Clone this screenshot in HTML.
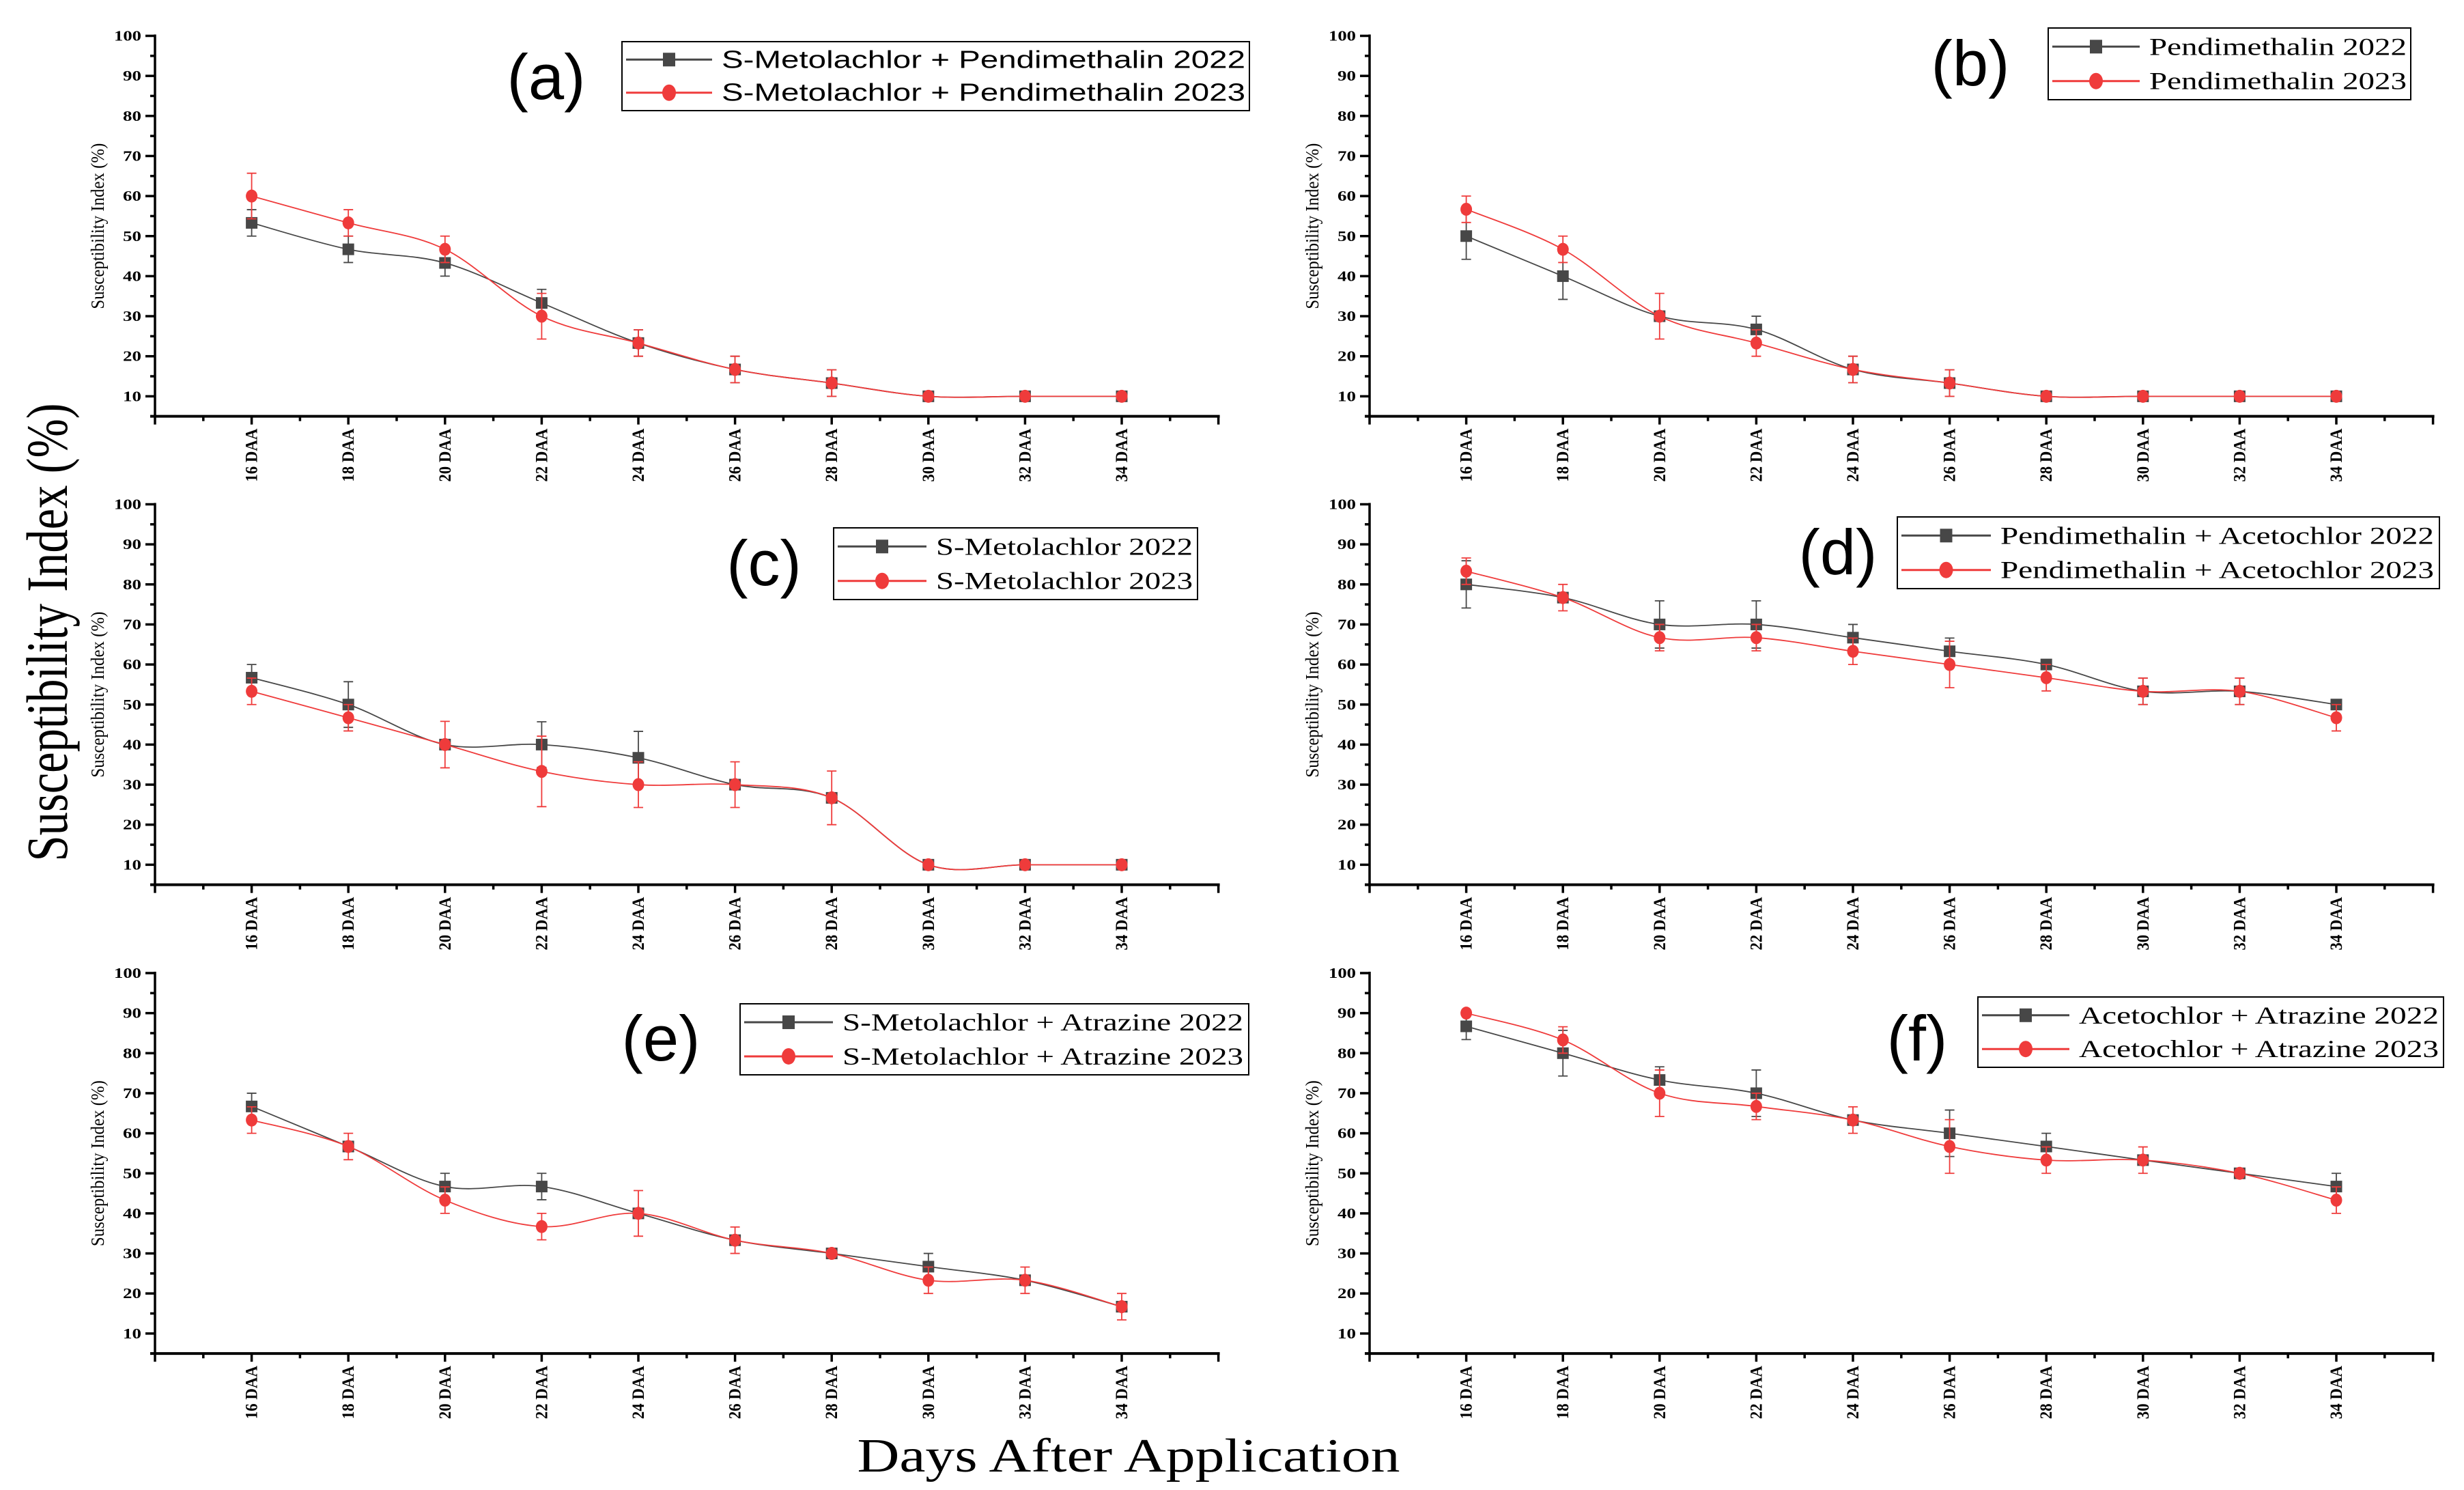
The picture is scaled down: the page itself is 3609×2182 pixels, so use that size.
<!DOCTYPE html>
<html><head><meta charset="utf-8"><title>Susceptibility Index panels</title>
<style>html,body{margin:0;padding:0;background:#fff}svg{display:block}</style></head>
<body>
<svg id="chart" xmlns="http://www.w3.org/2000/svg" width="3609" height="2182" viewBox="0 0 3609 2182">
<rect width="3609" height="2182" fill="#fff"/>
<text transform="translate(98,926) rotate(-90)" text-anchor="middle" font-family="Liberation Serif, serif" font-size="86" textLength="671" lengthAdjust="spacingAndGlyphs">Susceptibility Index (%)</text>
<text x="1653" y="2155" text-anchor="middle" font-family="Liberation Serif, serif" font-size="70" textLength="795" lengthAdjust="spacingAndGlyphs">Days After Application</text>
</svg>
<script>
const categories = ['16 DAA','18 DAA','20 DAA','22 DAA','24 DAA','26 DAA','28 DAA','30 DAA','32 DAA','34 DAA'];
const yTicks = [10,20,30,40,50,60,70,80,90,100];

const aVals2022 = [53.3,46.7,43.3,33.3,23.3,16.7,13.3,10,10,10];
const aErr2022  = [3.3,3.3,3.3,3.4,3.3,3.3,3.3,0,0,0];
const aVals2023 = [60,53.3,46.7,30,23.3,16.7,13.3,10,10,10];
const aErr2023  = [5.7,3.3,3.3,5.7,3.3,3.3,3.3,0,0,0];

const bVals2022 = [50,40,30,26.7,16.7,13.3,10,10,10,10];
const bErr2022  = [5.8,5.8,0,3.3,3.3,3.3,0,0,0,0];
const bVals2023 = [56.7,46.7,30,23.3,16.7,13.3,10,10,10,10];
const bErr2023  = [3.3,3.3,5.7,3.3,3.3,3.3,0,0,0,0];

const cVals2022 = [56.7,50,40,40,36.7,30,26.7,10,10,10];
const cErr2022  = [3.3,5.7,0,5.7,6.6,0,0,0,0,0];
const cVals2023 = [53.3,46.7,40,33.3,30,30,26.7,10,10,10];
const cErr2023  = [3.3,3.3,5.8,8.8,5.7,5.7,6.7,0,0,0];

const dVals2022 = [80,76.7,70,70,66.7,63.3,60,53.3,53.3,50];
const dErr2022  = [5.9,0,5.9,5.9,3.3,3.3,0,3.3,3.3,0];
const dVals2023 = [83.3,76.7,66.7,66.7,63.3,60,56.7,53.3,53.3,46.7];
const dErr2023  = [3.3,3.3,3.3,3.3,3.3,5.8,3.3,3.3,3.3,3.3];

const eVals2022 = [66.7,56.7,46.7,46.7,40,33.3,30,26.7,23.3,16.7];
const eErr2022  = [3.3,0,3.3,3.3,0,0,0,3.3,0,0];
const eVals2023 = [63.3,56.7,43.3,36.7,40,33.3,30,23.3,23.3,16.7];
const eErr2023  = [3.3,3.3,3.3,3.3,5.7,3.3,0,3.3,3.3,3.3];

const fVals2022 = [86.7,80,73.3,70,63.3,60,56.7,53.3,50,46.7];
const fErr2022  = [3.3,5.7,3.3,5.8,0,5.8,3.3,0,0,3.3];
const fVals2023 = [90,83.3,70,66.7,63.3,56.7,53.3,53.3,50,43.3];
const fErr2023  = [0,3.3,5.8,3.3,3.3,6.7,3.3,3.3,0,3.3];

const legendA = ['S-Metolachlor + Pendimethalin 2022','S-Metolachlor + Pendimethalin 2023'];
const legendB = ['Pendimethalin 2022','Pendimethalin 2023'];
const legendC = ['S-Metolachlor 2022','S-Metolachlor 2023'];
const legendD = ['Pendimethalin + Acetochlor 2022','Pendimethalin + Acetochlor 2023'];
const legendE = ['S-Metolachlor + Atrazine 2022','S-Metolachlor + Atrazine 2023'];
const legendF = ['Acetochlor + Atrazine 2022','Acetochlor + Atrazine 2023'];

const NS = 'http://www.w3.org/2000/svg';
const svg = document.getElementById('chart');
const GRAY = '#474747', RED = '#ef3b3b';

function mk(tag, attrs, parent) {
  const e = document.createElementNS(NS, tag);
  for (const k in attrs) e.setAttribute(k, attrs[k]);
  parent.appendChild(e);
  return e;
}

const panels = [
  {id:'a', ax:227, top:52.5, v22:aVals2022, e22:aErr2022, v23:aVals2023, e23:aErr2023, leg:legendA, box:[911,61,1830,162], tx:1057, tl:767, sans:true, lx:800, ly:139},
  {id:'b', ax:2006, top:52.5, v22:bVals2022, e22:bErr2022, v23:bVals2023, e23:bErr2023, leg:legendB, box:[3000,41,3531,146], tx:3148, tl:377, sans:false, lx:2886, ly:119},
  {id:'c', ax:227, top:738.5, v22:cVals2022, e22:cErr2022, v23:cVals2023, e23:cErr2023, leg:legendC, box:[1221,773,1754,878], tx:1371, tl:376, sans:false, lx:1119, ly:851},
  {id:'d', ax:2006, top:738.5, v22:dVals2022, e22:dErr2022, v23:dVals2023, e23:dErr2023, leg:legendD, box:[2779,757,3573,862], tx:2930, tl:635, sans:false, lx:2692, ly:835},
  {id:'e', ax:227, top:1425, v22:eVals2022, e22:eErr2022, v23:eVals2023, e23:eErr2023, leg:legendE, box:[1084,1470,1829,1574], tx:1234, tl:587, sans:false, lx:968, ly:1547},
  {id:'f', ax:2006, top:1425, v22:fVals2022, e22:fErr2022, v23:fVals2023, e23:fErr2023, leg:legendF, box:[2897,1460,3579,1563], tx:3045, tl:527, sans:false, lx:2808, ly:1547}
];

const STEP = 141.6, PERUNIT = 5.865;

function splinePath(pts) {
  let d = 'M' + pts[0][0] + ',' + pts[0][1];
  for (let i = 0; i < pts.length - 1; i++) {
    const p0 = pts[Math.max(0, i - 1)], p1 = pts[i], p2 = pts[i + 1], p3 = pts[Math.min(pts.length - 1, i + 2)];
    const c1x = p1[0] + (p2[0] - p0[0]) / 6, c1y = p1[1] + (p2[1] - p0[1]) / 6;
    const c2x = p2[0] - (p3[0] - p1[0]) / 6, c2y = p2[1] - (p3[1] - p1[1]) / 6;
    d += ' C' + c1x + ',' + c1y + ' ' + c2x + ',' + c2y + ' ' + p2[0] + ',' + p2[1];
  }
  return d;
}

panels.forEach(p => {
  const g = mk('g', {}, svg);
  
  
  const xs = i => p.ax + STEP * (i + 1);
  const ys = v => p.top + (100 - v) * PERUNIT;
  const bottom = ys(5);
  const right = p.ax + STEP * 11;

  const yAxis = mk('g', {}, g);
  
  
  mk('line', {x1:p.ax, y1:ys(100) - 2, x2:p.ax, y2:bottom + 2, stroke:'#000', 'stroke-width':3.5}, yAxis);
  yTicks.forEach(t => {
    mk('line', {x1:p.ax - 14, y1:ys(t), x2:p.ax, y2:ys(t), stroke:'#000', 'stroke-width':3.5}, yAxis);
    mk('line', {x1:p.ax - 7, y1:ys(t - 5), x2:p.ax, y2:ys(t - 5), stroke:'#000', 'stroke-width':3.5}, yAxis);
    const lb = mk('text', {x:p.ax - 20, y:ys(t) + 7, 'text-anchor':'end', 'font-family':'Liberation Serif, serif', 'font-weight':'bold', 'font-size':21, textLength:(t === 100 ? 40 : 27), lengthAdjust:'spacingAndGlyphs'}, yAxis);
    
    
    lb.textContent = t;
  });
  const yt = mk('text', {transform:'translate(' + (p.ax - 75) + ',' + ys(52.5) + ') rotate(-90)', 'text-anchor':'middle', 'font-family':'Liberation Serif, serif', 'font-size':27, textLength:243, lengthAdjust:'spacingAndGlyphs'}, yAxis);
  
  
  yt.textContent = 'Susceptibility Index (%)';

  const xAxis = mk('g', {}, g);
  
  
  mk('line', {x1:p.ax - 7, y1:bottom, x2:right + 2, y2:bottom, stroke:'#000', 'stroke-width':4}, xAxis);
  for (let k = -1; k <= 10; k++) {
    mk('line', {x1:xs(k), y1:bottom, x2:xs(k), y2:bottom + 12, stroke:'#000', 'stroke-width':3.5}, xAxis);
    if (k < 10) mk('line', {x1:xs(k) + STEP / 2, y1:bottom, x2:xs(k) + STEP / 2, y2:bottom + 7, stroke:'#000', 'stroke-width':3.5}, xAxis);
  }
  categories.forEach((c, i) => {
    const t = mk('text', {transform:'translate(' + (xs(i) + 8) + ',' + (bottom + 18) + ') rotate(-90)', 'text-anchor':'end', 'font-family':'Liberation Serif, serif', 'font-weight':'bold', 'font-size':25, textLength:78, lengthAdjust:'spacingAndGlyphs'}, xAxis);
    
    
    t.textContent = c;
  });

  [[p.v22, p.e22, GRAY, '2022'], [p.v23, p.e23, RED, '2023']].forEach(([vals, errs, col, yr]) => {
    const sg = mk('g', {}, g);
    
    
    const pts = vals.map((v, i) => [xs(i), ys(v)]);
    const ln = mk('path', {d:splinePath(pts), fill:'none', stroke:col, 'stroke-width':1.8}, sg);
    
    
    vals.forEach((v, i) => {
      const e = errs[i];
      if (e > 0) {
        const eb = mk('path', {d:'M' + xs(i) + ',' + ys(v - e) + ' V' + ys(v + e) + ' M' + (xs(i) - 7) + ',' + ys(v + e) + ' h14 M' + (xs(i) - 7) + ',' + ys(v - e) + ' h14', stroke:col, 'stroke-width':1.8, fill:'none'}, sg);
        
        
      }
      let m;
      if (yr === '2022') m = mk('rect', {x:xs(i) - 8.5, y:ys(v) - 8.5, width:17, height:17, fill:col}, sg);
      else m = mk('ellipse', {cx:xs(i), cy:ys(v), rx:8.5, ry:9.5, fill:col}, sg);
      
      
    });
  });

  const pl = mk('text', {x:p.lx, y:p.ly + 6, 'text-anchor':'middle', 'font-family':'Liberation Sans, sans-serif', 'font-size':94}, g);
  
  
  pl.textContent = '(' + p.id + ')';

  const [bx1, by1, bx2, by2] = p.box;
  const lg = mk('g', {}, g);
  
  
  mk('rect', {x:bx1, y:by1, width:bx2 - bx1, height:by2 - by1, fill:'#fff', stroke:'#000', 'stroke-width':2}, lg);
  const h = by2 - by1;
  [[GRAY, 0.26], [RED, 0.74]].forEach(([col, f], k) => {
    const ry = by1 + h * f;
    const l1 = bx1 + 6, l2 = p.tx - 14, mx = (l1 + l2) / 2;
    const entry = mk('g', {}, lg);
    
    
    mk('line', {x1:l1, y1:ry, x2:l2, y2:ry, stroke:col, 'stroke-width':3}, entry);
    if (k === 0) mk('rect', {x:mx - 9, y:ry - 10, width:18, height:20, fill:col}, entry);
    else mk('ellipse', {cx:mx, cy:ry, rx:10, ry:12, fill:col}, entry);
    const t = mk('text', {x:p.tx, y:ry + 12, 'font-family':(p.sans ? 'Liberation Sans, sans-serif' : 'Liberation Serif, serif'), 'font-size':36, textLength:p.tl, lengthAdjust:'spacingAndGlyphs'}, entry);
    t.textContent = p.leg[k];
  });
});
</script>
</body></html>
